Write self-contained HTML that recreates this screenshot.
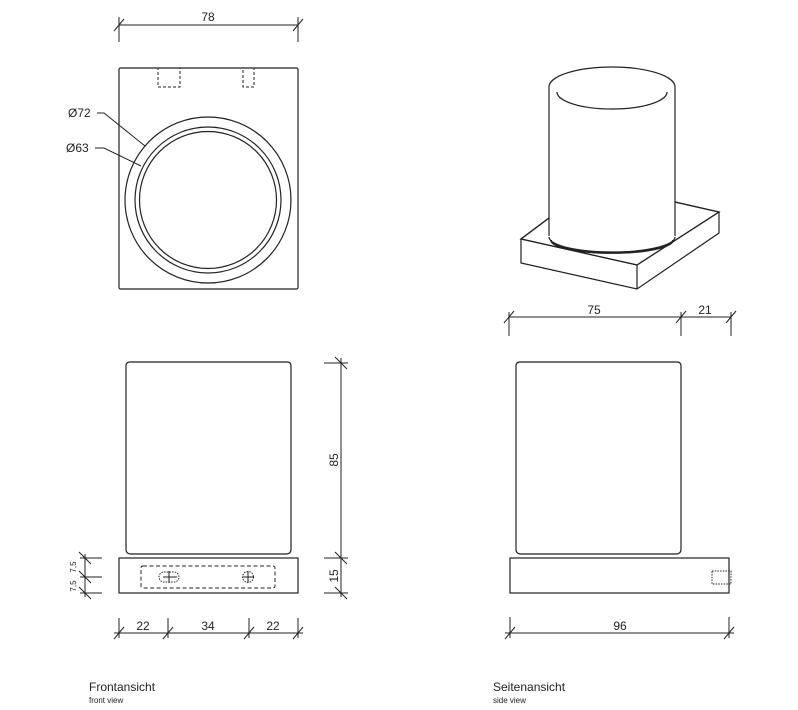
<!DOCTYPE html>
<html><head><meta charset="utf-8"><style>
html,body{margin:0;padding:0;background:#fff;}
svg{display:block;}
text{font-family:"Liberation Sans",sans-serif;fill:#222;}
</style></head><body>
<svg width="798" height="710" viewBox="0 0 798 710" xmlns="http://www.w3.org/2000/svg">
<g stroke="#222" stroke-width="1.2" fill="none">
<!-- Top-left plan view -->
<rect x="119" y="68" width="179" height="221" rx="1.5"/>
<rect x="158" y="68" width="22" height="19" stroke-dasharray="3,2" stroke-width="1"/>
<rect x="243" y="68" width="11" height="19" stroke-dasharray="3,2" stroke-width="1"/>
<circle cx="208" cy="200" r="83"/>
<circle cx="208" cy="200" r="73"/>
<circle cx="208" cy="200" r="68.5"/>
<polyline points="97,113 104,113 145,146" stroke-width="1"/>
<polyline points="95,148 104,148 141,166" stroke-width="1"/>
<!-- dim 78 -->
<line x1="119" y1="25" x2="298" y2="25" stroke-width="1"/>
<line x1="119" y1="17" x2="119" y2="42" stroke-width="1"/>
<line x1="298" y1="17" x2="298" y2="42" stroke-width="1"/>
<line x1="114" y1="31" x2="124" y2="19" stroke-width="1"/>
<line x1="293" y1="31" x2="303" y2="19" stroke-width="1"/>

<!-- Iso view -->
<polygon points="521,239 637,265 719,212 675,202 549,218" fill="#fff"/>
<polyline points="521,239 521,263 637,289 719,233 719,212"/>
<line x1="637" y1="265" x2="637" y2="289"/>
<polyline points="549,218 521,239 637,265 719,212 675,202"/>
<path d="M549,87 L549,236 A63,15 0 0 0 675,236 L675,87 Z" fill="#fff" stroke="none"/>
<line x1="549" y1="87" x2="549" y2="236"/>
<line x1="675" y1="87" x2="675" y2="236"/>
<path d="M549,237 A63,15 0 0 0 675,237"/>
<path d="M549,87 A63,20 0 0 1 675,87"/>
<path d="M557,92 A55,17 0 0 0 667,92"/>
<path d="M551,240 A61,13 0 0 0 673,240" stroke-width="1.8"/>
<!-- dim 75/21 -->
<line x1="509" y1="317" x2="731" y2="317" stroke-width="1"/>
<line x1="509" y1="312" x2="509" y2="336" stroke-width="1"/>
<line x1="681" y1="312" x2="681" y2="336" stroke-width="1"/>
<line x1="731" y1="312" x2="731" y2="336" stroke-width="1"/>
<line x1="504" y1="323" x2="514" y2="311" stroke-width="1"/>
<line x1="676" y1="323" x2="686" y2="311" stroke-width="1"/>
<line x1="726" y1="323" x2="736" y2="311" stroke-width="1"/>

<!-- Front view -->
<path d="M130,362 L287,362 Q291,362 291,366 L291,549 Q291,554 286,554 L131,554 Q126,554 126,549 L126,366 Q126,362 130,362 Z"/>
<rect x="119" y="558" width="179" height="35"/>
<rect x="141" y="566" width="134" height="22" rx="2" stroke-dasharray="4,2.5" stroke-width="1"/>
<rect x="159" y="572" width="20" height="10" rx="5" stroke-dasharray="1.5,1.2" stroke-width="1"/>
<line x1="163" y1="577" x2="177" y2="577" stroke-width="1"/>
<line x1="169" y1="571" x2="169" y2="583" stroke-width="1"/>
<circle cx="248" cy="577" r="5.5" stroke-dasharray="1.5,1.2" stroke-width="1"/>
<line x1="242" y1="577" x2="254" y2="577" stroke-width="1"/>
<line x1="248" y1="571" x2="248" y2="583" stroke-width="1"/>
<!-- dim 85/15 -->
<line x1="341" y1="358" x2="341" y2="597" stroke-width="1"/>
<line x1="324" y1="363" x2="348" y2="363" stroke-width="1"/>
<line x1="324" y1="558" x2="348" y2="558" stroke-width="1"/>
<line x1="324" y1="593" x2="348" y2="593" stroke-width="1"/>
<line x1="335" y1="357" x2="347" y2="369" stroke-width="1"/>
<line x1="335" y1="552" x2="347" y2="564" stroke-width="1"/>
<line x1="335" y1="587" x2="347" y2="599" stroke-width="1"/>
<!-- 7.5 dims -->
<line x1="85" y1="554" x2="85" y2="597" stroke-width="1"/>
<line x1="80" y1="558" x2="102" y2="558" stroke-width="1"/>
<line x1="80" y1="577" x2="102" y2="577" stroke-width="1"/>
<line x1="80" y1="593" x2="102" y2="593" stroke-width="1"/>
<line x1="79" y1="552" x2="91" y2="564" stroke-width="1"/>
<line x1="79" y1="571" x2="91" y2="583" stroke-width="1"/>
<line x1="79" y1="587" x2="91" y2="599" stroke-width="1"/>
<!-- bottom dims -->
<line x1="114" y1="633" x2="303" y2="633" stroke-width="1"/>
<line x1="119" y1="618" x2="119" y2="638" stroke-width="1"/>
<line x1="168" y1="618" x2="168" y2="638" stroke-width="1"/>
<line x1="249" y1="618" x2="249" y2="638" stroke-width="1"/>
<line x1="298" y1="618" x2="298" y2="638" stroke-width="1"/>
<line x1="114" y1="639" x2="124" y2="627" stroke-width="1"/>
<line x1="163" y1="639" x2="173" y2="627" stroke-width="1"/>
<line x1="244" y1="639" x2="254" y2="627" stroke-width="1"/>
<line x1="293" y1="639" x2="303" y2="627" stroke-width="1"/>

<!-- Side view -->
<path d="M520,362 L677,362 Q681,362 681,366 L681,549 Q681,554 676,554 L521,554 Q516,554 516,549 L516,366 Q516,362 520,362 Z"/>
<rect x="510" y="558" width="219" height="35"/>
<rect x="712" y="571" width="19" height="13" stroke-dasharray="1.5,1.2" stroke-width="1"/>
<line x1="505" y1="633" x2="734" y2="633" stroke-width="1"/>
<line x1="510" y1="617" x2="510" y2="638" stroke-width="1"/>
<line x1="729" y1="617" x2="729" y2="638" stroke-width="1"/>
<line x1="505" y1="639" x2="515" y2="627" stroke-width="1"/>
<line x1="724" y1="639" x2="734" y2="627" stroke-width="1"/>
</g>
<g font-size="12">
<text x="208" y="21" text-anchor="middle">78</text>
<text x="68" y="117">Ø72</text>
<text x="66" y="152">Ø63</text>
<text x="594" y="314" text-anchor="middle">75</text>
<text x="705" y="314" text-anchor="middle">21</text>
<text x="143" y="630" text-anchor="middle">22</text>
<text x="208" y="630" text-anchor="middle">34</text>
<text x="273" y="630" text-anchor="middle">22</text>
<text x="620" y="630" text-anchor="middle">96</text>
<text transform="translate(338,460) rotate(-90)" text-anchor="middle">85</text>
<text transform="translate(338,576) rotate(-90)" text-anchor="middle">15</text>
<text x="89" y="691">Frontansicht</text>
<text x="493" y="691">Seitenansicht</text>
</g>
<g font-size="8">
<text transform="translate(76,567) rotate(-90)" text-anchor="middle">7,5</text>
<text transform="translate(76,586) rotate(-90)" text-anchor="middle">7,5</text>
<text x="89" y="703">front view</text>
<text x="493" y="703">side view</text>
</g>
</svg>
</body></html>
